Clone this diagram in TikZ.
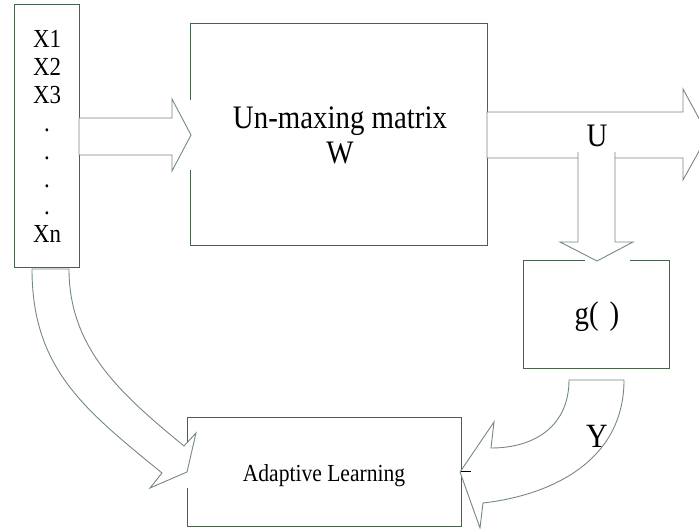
\documentclass[tikz,border=0pt]{standalone}
\usepackage{fontspec}
\setmainfont{Liberation Serif}[FakeStretch=0.88]
\definecolor{boxcol}{RGB}{72,98,78}
\definecolor{arrcol}{RGB}{118,138,122}
\begin{document}
\begin{tikzpicture}[x=1pt,y=-1pt,
  boxline/.style={draw=boxcol,line width=1pt},
  arrowline/.style={draw=arrcol,line width=0.9pt,fill=white,line join=miter},
  area/.style={inner sep=0pt,outer sep=0pt,draw=none},
  bigtext/.style={font=\fontsize{32.8}{35}\selectfont},
  xtext/.style={font=\fontsize{26}{27.86}\selectfont,inner sep=0pt},
  smalltext/.style={font=\fontsize{24.5}{28}\selectfont}]
\useasboundingbox (0,0) rectangle (699,529);
\clip (0,0) rectangle (699,529);
% boxes
\node[area,minimum width=65pt,minimum height=263pt] (X) at (46.5,136.5) {};
\node[area,minimum width=297pt,minimum height=222pt] (W) at (338.5,135) {};
\node[area,minimum width=146pt,minimum height=108pt] (G) at (596,315) {};
\node[area,minimum width=274pt,minimum height=109pt] (A) at (324,471.5) {};
\draw[boxline] (X.north west) rectangle (X.south east);
\draw[boxline] ([yshift=35pt]W.west) -- (W.north west) -- (W.north east) -- (W.south east) -- (W.south west) -- ([yshift=-35pt]W.west);
\draw[boxline] ([xshift=-11pt]G.north) -- (G.north west) -- (G.south west) -- (G.south east) -- (G.north east) -- ([xshift=34pt]G.north);
\draw[boxline] ([yshift=26.5pt]A.west) -- (A.north west) -- (A.north east) -- (A.south east) -- (A.south west) -- ([yshift=-16.5pt]A.west);
% block arrows
\path[arrowline] (79,118) -- (172,118) -- (172,99) -- (191,135) -- (172,171) -- (172,155) -- (79,155) -- cycle;
\path[arrowline] (487,112) -- (683,112) -- (683,89) -- (708,135) -- (683,180) -- (683,158) -- (487,158) -- cycle;
\path[arrowline] (578,152) -- (578,242) -- (560,242) -- (597,261) -- (633,242) -- (615,242) -- (615,152);
\path[arrowline] (32,269) .. controls (32,369) and (85,410) .. (162,473) -- (150,488) -- (187,472) -- (196,433) -- (184,446) .. controls (122,395) and (69,349) .. (69,269) -- cycle;
\path[arrowline] (569,380) -- (624,380) .. controls (624,460) and (553,495) .. (483,503) -- (480,528) -- (460,472) -- (494,422) -- (491,448) .. controls (536,448) and (569,425) .. (569,380) -- cycle;
\draw[black,line width=0.8pt] (A.east) -- ++(10,0);
% texts
\node[xtext,align=center,anchor=north] (xs) at (47,30.4) {X1\\X2\\X3\\.\\.\\.\\.\\Xn};
\node[bigtext,align=center,anchor=north,inner sep=0pt] (wt) at (340,106.3) {Un-maxing matrix\\W};
\node[bigtext,anchor=base] (u) at (597,147) {U};
\node[bigtext,anchor=base] (gt) at (597,325) {g(\,\,)};
\node[font=\fontsize{34}{40}\selectfont,anchor=base] (yt) at (597,447) {Y};
\node[smalltext,anchor=base] (at) at (324,481) {Adaptive Learning};
\end{tikzpicture}
\end{document}
